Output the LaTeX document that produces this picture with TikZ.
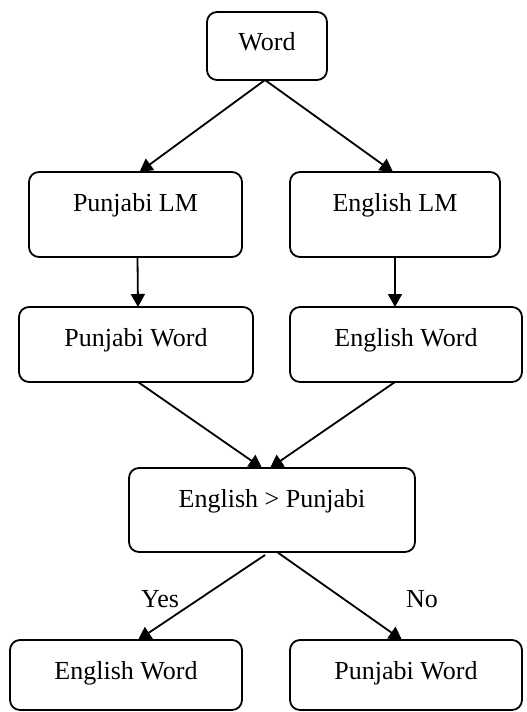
\documentclass[tikz,border=0pt]{standalone}
\usepackage{fontspec}
\setmainfont{Liberation Serif}
\usetikzlibrary{arrows.meta,calc}
\tikzset{
  boxnode/.style={draw, line width=1.8bp, rounded corners=10bp, anchor=north west, inner sep=0pt, outer sep=0pt},
  boxtext/.style={anchor=base, inner sep=0pt, font=\fontsize{26bp}{30bp}\selectfont},
  conn/.style={line width=1.8bp, -{Triangle[length=13bp,width=14bp]}},
}
\begin{document}
\begin{tikzpicture}[x=1bp,y=-1bp]
\useasboundingbox (0,0) rectangle (527,712);
% boxes
\node[boxnode, minimum width=120bp, minimum height=68bp] (w) at (207,12) {};
\node[boxnode, minimum width=213bp, minimum height=85bp] (pl) at (29,172) {};
\node[boxnode, minimum width=210bp, minimum height=85bp] (el) at (290,172) {};
\node[boxnode, minimum width=234bp, minimum height=75bp] (pw) at (19,307) {};
\node[boxnode, minimum width=232bp, minimum height=75bp] (ew) at (290,307) {};
\node[boxnode, minimum width=286bp, minimum height=84bp] (ep) at (129,468) {};
\node[boxnode, minimum width=232bp, minimum height=70bp] (ewo) at (10,640) {};
\node[boxnode, minimum width=232bp, minimum height=70bp] (pwo) at (290,640) {};
% texts
\node[boxtext] (tw) at ($(w.north)+(0,39)$) {Word};
\node[boxtext] (tpl) at ($(pl.north)+(0,39)$) {Punjabi LM};
\node[boxtext] (tel) at ($(el.north)+(0,39)$) {English LM};
\node[boxtext] (tpw) at ($(pw.north)+(0,39)$) {Punjabi Word};
\node[boxtext] (tew) at ($(ew.north)+(0,39)$) {English Word};
\node[boxtext] (tep) at ($(ep.north)+(0,39)$) {English > Punjabi};
\node[boxtext] (tewo) at ($(ewo.north)+(0,39)$) {English Word};
\node[boxtext] (tpwo) at ($(pwo.north)+(0,39)$) {Punjabi Word};
% labels
\node[boxtext] (yes) at (160,607) {Yes};
\node[boxtext] (no) at (422,607) {No};
% connectors
\draw[conn] ([xshift=-2bp]w.south) -- ([xshift=4bp]pl.north);
\draw[conn] ([xshift=-2bp]w.south) -- ([xshift=-2bp]el.north);
\draw[conn] ([xshift=2bp]pl.south) -- ([xshift=2bp]pw.north);
\draw[conn] (el.south) -- ([xshift=-11bp]ew.north);
\draw[conn] ([xshift=2bp]pw.south) -- ([xshift=-10bp]ep.north);
\draw[conn] ([xshift=-11bp]ew.south) -- ([xshift=-2bp]ep.north);
\draw[conn] ([xshift=-7bp,yshift=-3bp]ep.south) -- ([xshift=12bp]ewo.north);
\draw[conn] ([xshift=5bp]ep.south) -- ([xshift=-4bp]pwo.north);
\end{tikzpicture}
\end{document}
